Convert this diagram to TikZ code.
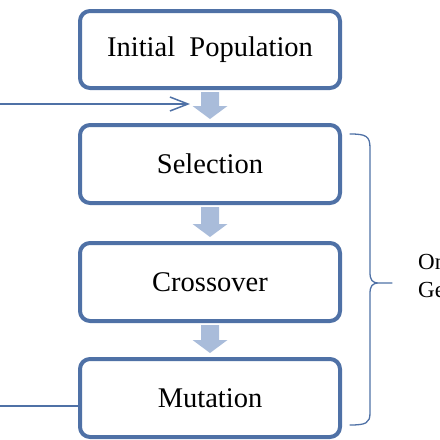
\documentclass[tikz,border=0pt]{standalone}
\usepackage{fontspec}
\setmainfont{Liberation Serif}
\usetikzlibrary{positioning,calc,arrows.meta}
\definecolor{boxblue}{RGB}{79,113,166}
\definecolor{arrowblue}{RGB}{169,188,218}
\begin{document}
\begin{tikzpicture}[x=1pt, y=-1pt, >={Straight Barb[length=18pt,width=14pt]},
    line join=round, line cap=round, node distance=34pt,
    stage/.style={draw=boxblue, line width=4pt, rounded corners=10pt, fill=white,
        minimum width=260pt, minimum height=78pt, inner sep=0pt, outer sep=0pt,
        font=\fontsize{28.5}{34}\selectfont},
    link/.style={draw=boxblue, line width=1.5pt},
    fat/.style={fill=arrowblue, draw=none}]
    \clip (0,0) rectangle (440,440);
    \node[stage, minimum height=77pt] (init) at (210,49.5) {Initial\ \ Population};
    \node[stage, below=37pt of init] (sel) {Selection};
    \node[stage, below=40pt of sel] (cross) {Crossover};
    \node[stage, below=38pt of cross] (mut) {Mutation};
    % block arrows between the stages
    \foreach \a/\b in {init/sel, sel/cross, cross/mut}{
        \fill[fat] ($(\a.south)+(-9,4)$) -- ($(\a.south)+(9,4)$) -- ($(\b.north)+(9,-19)$)
            -- ($(\b.north)+(17.5,-19)$) -- ($(\b.north)+(0,-6)$) -- ($(\b.north)+(-17.5,-19)$)
            -- ($(\b.north)+(-9,-19)$) -- cycle;
    }
    % loop back
    \coordinate (back) at (0,104);
    \coordinate (backend) at (190,104);
    \draw[link, ->] (back) -- (backend);
    \coordinate (out) at (0,406);
    \draw[link] (out) -- (mut.west |- out);
    % bracket
    \draw[link, line width=1.3pt] (350,134) .. controls (366,134) and (370,136) .. (370,148) -- (370,272)
        .. controls (370,280) and (372,283) .. (379,283) -- (392,283)
        (379,283) .. controls (372,283) and (370,286) .. (370,294) -- (370,413)
        .. controls (370,423) and (366,425) .. (350,425);
    \node[anchor=west, align=left, inner sep=0pt, font=\fontsize{23}{28}\selectfont] (gen) at (418,276) {One\\Generation};
\end{tikzpicture}
\end{document}
